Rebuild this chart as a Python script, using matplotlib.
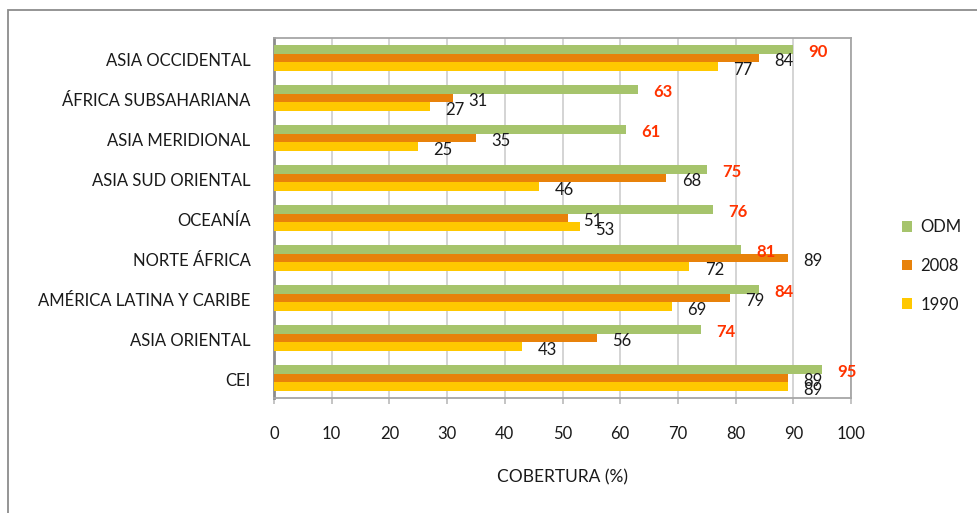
import matplotlib
matplotlib.use("Agg")
import matplotlib.pyplot as plt
import matplotlib.transforms as mtransforms
from matplotlib.patches import Rectangle
import numpy as np

plt.rcParams['font.family'] = ['Lato', 'DejaVu Sans']

regions = ["ASIA OCCIDENTAL", "ÁFRICA SUBSAHARIANA", "ASIA MERIDIONAL",
           "ASIA SUD ORIENTAL", "OCEANÍA", "NORTE ÁFRICA",
           "AMÉRICA LATINA Y CARIBE", "ASIA ORIENTAL", "CEI"]
odm = [90, 63, 61, 75, 76, 81, 84, 74, 95]
y2008 = [84, 31, 35, 68, 51, 89, 79, 56, 89]
y1990 = [77, 27, 25, 46, 53, 72, 69, 43, 89]
series_names = ["ODM", "2008", "1990"]
xticks = [0, 10, 20, 30, 40, 50, 60, 70, 80, 90, 100]

colors = {"ODM": "#A6C46C", "2008": "#E8820A", "1990": "#FFC800"}
label_colors = {"ODM": "#FF3300", "2008": "#1A1A1A", "1990": "#1A1A1A"}
label_weights = {"ODM": "bold", "2008": "normal", "1990": "normal"}

W, H = 978, 513
fig = plt.figure(figsize=(W / 100, H / 100), dpi=100)
ax = fig.add_axes([274 / W, 1 - 398 / H, (851 - 274) / W, (398 - 38) / H])

# outer chart frame (left and top edges visible)
fig.patches.append(Rectangle((8 / W, -0.1), 1.2, 1 - 10 / H + 0.1,
                             transform=fig.transFigure, fill=False,
                             edgecolor="#8C8C8C", linewidth=1.3, zorder=0))

pos = np.arange(len(regions))
bh = 0.218
offsets = {"ODM": -bh, "2008": 0.0, "1990": bh}
data = {"ODM": odm, "2008": y2008, "1990": y1990}

for name in series_names:
    bars = ax.barh(pos + offsets[name], data[name], height=bh,
                   color=colors[name], label=name, zorder=3)
    for rect, v in zip(bars, data[name]):
        ax.annotate(f"{v}", xy=(v, rect.get_y() + rect.get_height() / 2),
                    xytext=(11, -2.2), textcoords="offset points",
                    ha="left", va="center", fontsize=12,
                    color=label_colors[name], fontweight=label_weights[name],
                    zorder=5, annotation_clip=False)

ax.set_xlim(0, 100)
ax.set_ylim(len(regions) - 0.5, -0.5)
ax.set_xticks(xticks)
ax.set_xticklabels([str(t) for t in xticks])
ax.set_yticks(pos)
ax.set_yticklabels(regions)

ax.grid(axis="x", color="#D4D4D4", linewidth=1.4, zorder=0)
ax.set_axisbelow(True)

for side in ["top", "right", "bottom"]:
    ax.spines[side].set_color("#A6A6A6")
    ax.spines[side].set_linewidth(1.3)
ax.spines["left"].set_color("#8C8C8C")
ax.spines["left"].set_linewidth(2.0)

ax.tick_params(axis="y", length=0, pad=17, labelsize=12, labelcolor="#1A1A1A")
ax.tick_params(axis="x", length=4.5, width=1.3, color="#BFBFBF", pad=16,
               labelsize=12, labelcolor="#1A1A1A")

# nudge the category names slightly downward
shift = mtransforms.ScaledTranslation(0, -2 / 100, fig.dpi_scale_trans)
for lbl in ax.get_yticklabels():
    lbl.set_transform(lbl.get_transform() + shift)

fig.text(562.5 / W, 1 - 477 / H, "COBERTURA (%)", ha="center", va="center",
         fontsize=12.5, color="#1A1A1A")

leg = ax.legend(loc="center left", bbox_to_anchor=(902 / W, 1 - 266 / H),
                bbox_transform=fig.transFigure, frameon=False, fontsize=12,
                handlelength=0.6, handleheight=0.6, handletextpad=0.5,
                labelspacing=1.35, borderpad=0, borderaxespad=0)
for t in leg.get_texts():
    t.set_color("#1A1A1A")

fig.savefig("out.png", dpi=100)
